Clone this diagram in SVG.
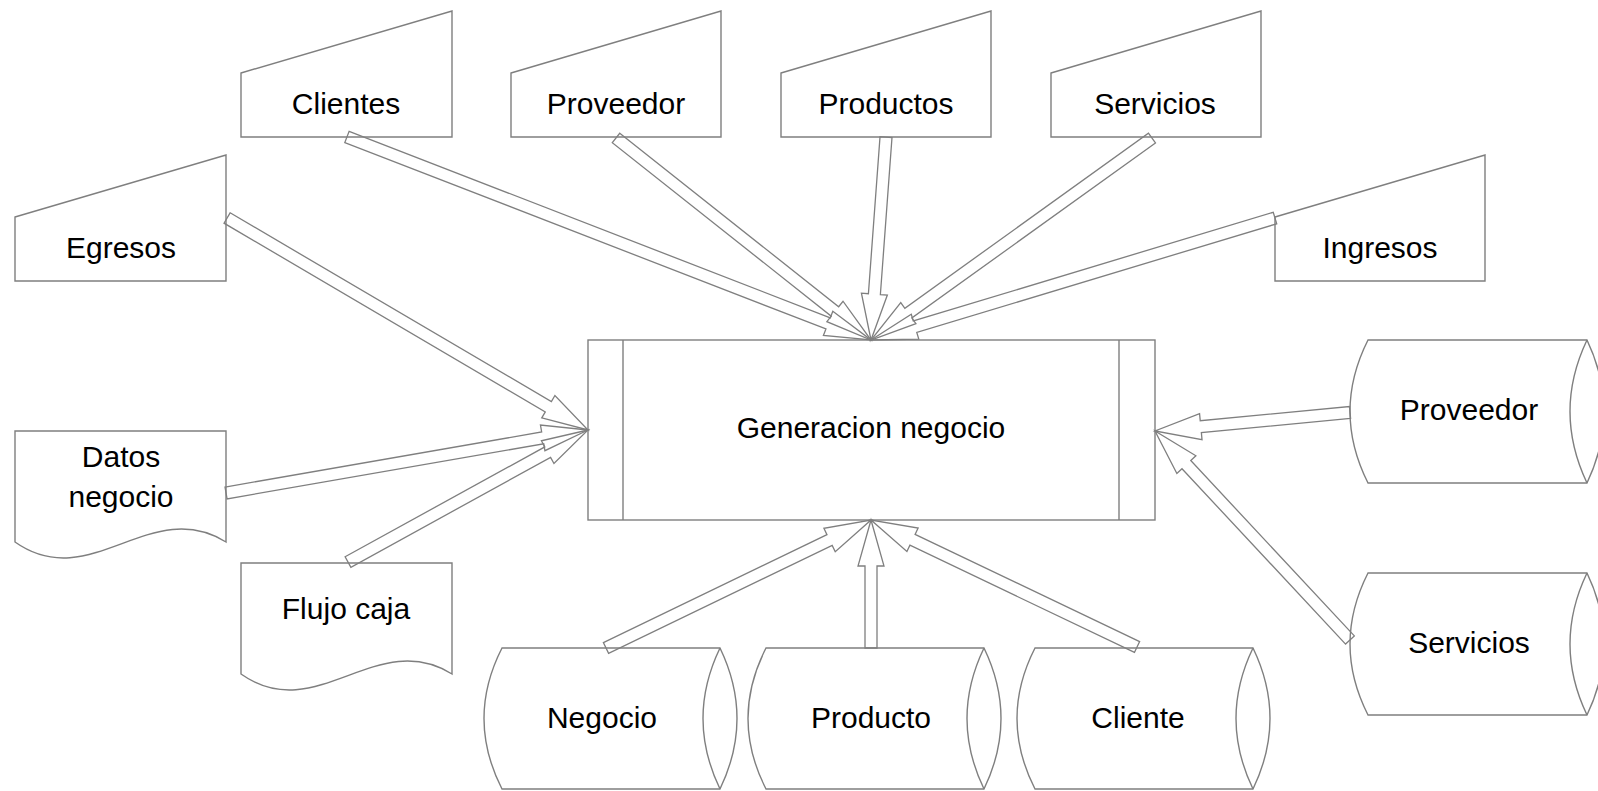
<svg xmlns="http://www.w3.org/2000/svg" width="1598" height="791" viewBox="0 0 1598 791">
<style>
.s{fill:#fff;stroke:#7f7f7f;stroke-width:1.4;stroke-linejoin:miter}
.a{fill:none;stroke:#7f7f7f;stroke-width:1.3;stroke-linejoin:miter}
.t{font-family:"Liberation Sans",Arial,sans-serif;font-size:30px;fill:#000;text-anchor:middle}
</style>
<rect width="1598" height="791" fill="#fff"/>
<g id="n-clientes"><polygon class="s" points="241,73 452,11 452,137 241,137"/><text class="t" x="346" y="114">Clientes</text></g>
<g id="n-proveedor-top"><polygon class="s" points="511,73 721,11 721,137 511,137"/><text class="t" x="616" y="114">Proveedor</text></g>
<g id="n-productos"><polygon class="s" points="781,73 991,11 991,137 781,137"/><text class="t" x="886" y="114">Productos</text></g>
<g id="n-servicios-top"><polygon class="s" points="1051,73 1261,11 1261,137 1051,137"/><text class="t" x="1155" y="114">Servicios</text></g>
<g id="n-egresos"><polygon class="s" points="15,217 226,155 226,281 15,281"/><text class="t" x="121" y="258">Egresos</text></g>
<g id="n-ingresos"><polygon class="s" points="1275,217 1485,155 1485,281 1275,281"/><text class="t" x="1380" y="258">Ingresos</text></g>
<g id="n-generacion"><rect class="s" x="588" y="340" width="567" height="180"/><line class="s" x1="623" y1="340" x2="623" y2="520"/><line class="s" x1="1119" y1="340" x2="1119" y2="520"/><text class="t" x="871" y="438">Generacion negocio</text></g>
<g id="n-datos"><path class="s" d="M15,431 H226 V542 C150,495 90,595 15,542 Z"/><text class="t" x="121" y="467">Datos</text><text class="t" x="121" y="507">negocio</text></g>
<g id="n-flujo"><path class="s" d="M241,563 H452 V674 C376,627 316,727 241,674 Z"/><text class="t" x="346" y="619">Flujo caja</text></g>
<g id="n-proveedor-db"><path class="s" d="M1587,340 H1368 Q1332,411.5 1368,483 H1587 Q1621,411.5 1587,340 Z"/><path class="s" d="M1587,340 Q1553,411.5 1587,483"/><text class="t" x="1469" y="420">Proveedor</text></g>
<g id="n-servicios-db"><path class="s" d="M1587,573 H1368 Q1332,644 1368,715 H1587 Q1621,644 1587,573 Z"/><path class="s" d="M1587,573 Q1553,644 1587,715"/><text class="t" x="1469" y="653">Servicios</text></g>
<g id="n-negocio"><path class="s" d="M720,648 H502 Q466,718.5 502,789 H720 Q754,718.5 720,648 Z"/><path class="s" d="M720,648 Q686,718.5 720,789"/><text class="t" x="602" y="728">Negocio</text></g>
<g id="n-producto"><path class="s" d="M984,648 H766 Q730,718.5 766,789 H984 Q1018,718.5 984,648 Z"/><path class="s" d="M984,648 Q950,718.5 984,789"/><text class="t" x="871" y="728">Producto</text></g>
<g id="n-cliente"><path class="s" d="M1253,648 H1035 Q999,718.5 1035,789 H1253 Q1287,718.5 1253,648 Z"/><path class="s" d="M1253,648 Q1219,718.5 1253,789"/><text class="t" x="1138" y="728">Cliente</text></g>
<g id="connectors">
<polygon class="a" transform="translate(871,340) rotate(21.18)" points="-562,-6 -46,-6 -46,-13 0,0 -46,13 -46,6 -562,6"/>
<polygon class="a" transform="translate(871,340) rotate(38.39)" points="-325.3,-6 -46,-6 -46,-13 0,0 -46,13 -46,6 -325.3,6"/>
<polygon class="a" transform="translate(871,340) rotate(94.23)" points="-203.5,-6 -46,-6 -46,-13 0,0 -46,13 -46,6 -203.5,6"/>
<polygon class="a" transform="translate(871,340) rotate(144.29)" points="-346,-6 -46,-6 -46,-13 0,0 -46,13 -46,6 -346,6"/>
<polygon class="a" transform="translate(871,340) rotate(163.2)" points="-422,-6 -46,-6 -46,-13 0,0 -46,13 -46,6 -422,6"/>
<polygon class="a" transform="translate(588,430) rotate(30.43)" points="-418.6,-6 -46,-6 -46,-13 0,0 -46,13 -46,6 -418.6,6"/>
<polygon class="a" transform="translate(588,430) rotate(-9.87)" points="-367.4,-6 -46,-6 -46,-13 0,0 -46,13 -46,6 -367.4,6"/>
<polygon class="a" transform="translate(588,430) rotate(-28.81)" points="-273.9,-6 -46,-6 -46,-13 0,0 -46,13 -46,6 -273.9,6"/>
<polygon class="a" transform="translate(871,520) rotate(-25.78)" points="-294.3,-6 -46,-6 -46,-13 0,0 -46,13 -46,6 -294.3,6"/>
<polygon class="a" transform="translate(871,520) rotate(-90)" points="-128,-6 -46,-6 -46,-13 0,0 -46,13 -46,6 -128,6"/>
<polygon class="a" transform="translate(871,520) rotate(205.52)" points="-294.8,-6 -46,-6 -46,-13 0,0 -46,13 -46,6 -294.8,6"/>
<polygon class="a" transform="translate(1155,431) rotate(174.58)" points="-195.9,-6 -46,-6 -46,-13 0,0 -46,13 -46,6 -195.9,6"/>
<polygon class="a" transform="translate(1155,431) rotate(226.99)" points="-285.8,-6 -46,-6 -46,-13 0,0 -46,13 -46,6 -285.8,6"/>
</g>
</svg>
